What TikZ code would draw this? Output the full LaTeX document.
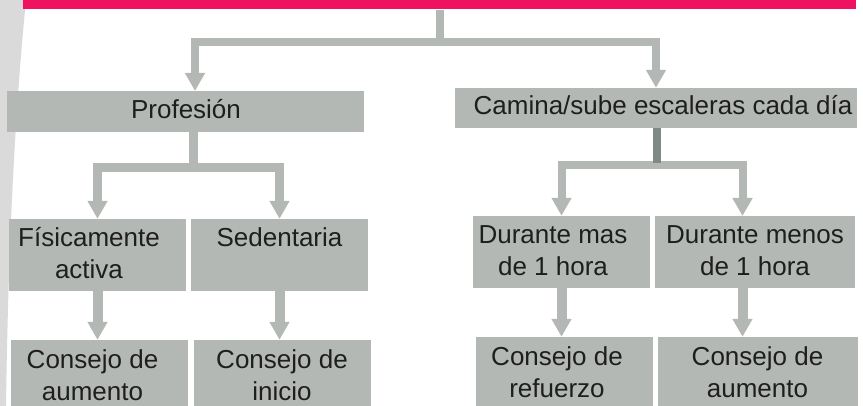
\documentclass[tikz,border=0pt]{standalone}
\usepackage{fontspec}
\setmainfont{Liberation Sans}
\usetikzlibrary{arrows.meta,calc}
\definecolor{boxgray}{HTML}{B4B8B4}
\definecolor{topred}{HTML}{EE1260}
\definecolor{darkstem}{HTML}{7E8A84}
\definecolor{bandgray}{HTML}{DADADA}
\definecolor{txtcol}{HTML}{1E1E1E}
\newcommand\twol[2]{\begin{tabular}[t]{@{}c@{}}#1\\#2\end{tabular}}
\begin{document}
\begin{tikzpicture}[x=1pt,y=-1pt,
  box/.style={fill=boxgray,draw=none,inner sep=0pt,minimum width=177pt,minimum height=72pt},
  lbl/.style={text=txtcol,inner sep=0pt,anchor=base,font=\fontsize{26}{32}\selectfont},
  conn/.style={draw=boxgray,line width=9pt,line join=miter,line cap=butt},
  tip/.style={-{Triangle[width=19pt,length=18pt]}},
  dtip/.style={{Triangle[width=19pt,length=18pt]}-{Triangle[width=19pt,length=18pt]}}
]
\useasboundingbox (0,0) rectangle (863,406);
\clip (0,0) rectangle (863,406);
\fill[white] (0,0) rectangle (863,406);
% left band
\fill[bandgray] (0,0) -- (26,0) .. controls (14,120) and (8,260) .. (6,406) -- (0,406) -- cycle;

% boxes
\node[fill=topred,inner sep=0pt,minimum width=833pt,minimum height=20pt] (title) at (439.5,-0.5) {};
\node[box,minimum width=357pt,minimum height=41pt] (prof) at (185.5,111.5) {};
\node[box,minimum width=402pt,minimum height=40pt] (cam) at (656,108) {};
\node[box] (fis) at (97.5,255) {};
\node[box] (sed) at (279.5,255) {};
\node[box] (ca1) at (99.5,376) {};
\node[box] (ci) at (282.5,376) {};
\node[box] (dmas) at (561.5,252) {};
\node[box,minimum width=200pt] (dmen) at (755,252) {};
\node[box] (cref) at (564.5,373) {};
\node[box,minimum width=200pt] (ca2) at (758,373) {};

% texts
\node[lbl] (tprof) at (186,119) {Profesión};
\node[lbl] (tcam) at (663,115) {Camina/sube escaleras cada día};
\node[lbl] (tfis) at (89,246.7) {\twol{Físicamente}{activa}};
\node[lbl] (tsed) at (279.5,246.7) {Sedentaria};
\node[lbl] (tca1) at (92.5,368.3) {\twol{Consejo de}{aumento}};
\node[lbl] (tci) at (282,368.3) {\twol{Consejo de}{inicio}};
\node[lbl] (tdmas) at (553,244) {\twol{Durante mas}{de 1 hora}};
\node[lbl] (tdmen) at (755,244) {\twol{Durante menos}{de 1 hora}};
\node[lbl] (tcref) at (557,365.3) {\twol{Consejo de}{refuerzo}};
\node[lbl] (tca2) at (757.5,365.3) {\twol{Consejo de}{aumento}};

% junctions
\coordinate (j1) at (439.5,42);
\coordinate (a1) at (195,91);
\coordinate (j2) at (193,167.5);
\coordinate (ps) at (193,132);
\coordinate (j3) at (657,165.5);
\coordinate (j3s) at (657,163);
\coordinate (cs) at (657,128);
\coordinate (a3) at (742.5,216);
\coordinate (dm) at (742.5,288);

% connectors
\draw[conn,line width=8pt] (title.south) -- (j1);
\draw[conn,line width=8.5pt,dtip] (a1) |- (j1) -| (cam.north);
\draw[conn] (ps) -- (j2);
\draw[conn,dtip] (fis.north) |- (j2) -| (sed.north);
\draw[conn,line width=8pt,dtip] (dmas.north) |- (j3) -| (a3);
\draw[conn,draw=darkstem,line width=8pt] (cs) -- (j3s);
\draw[conn,line width=10pt,tip] (fis.south) -- (fis.south |- ca1.north);
\draw[conn,line width=10pt,tip] (sed.south) -- (sed.south |- ci.north);
\draw[conn,line width=10pt,tip] (dmas.south) -- (dmas.south |- cref.north);
\draw[conn,line width=10pt,tip] (dm) -- (dm |- ca2.north);
\end{tikzpicture}
\end{document}
